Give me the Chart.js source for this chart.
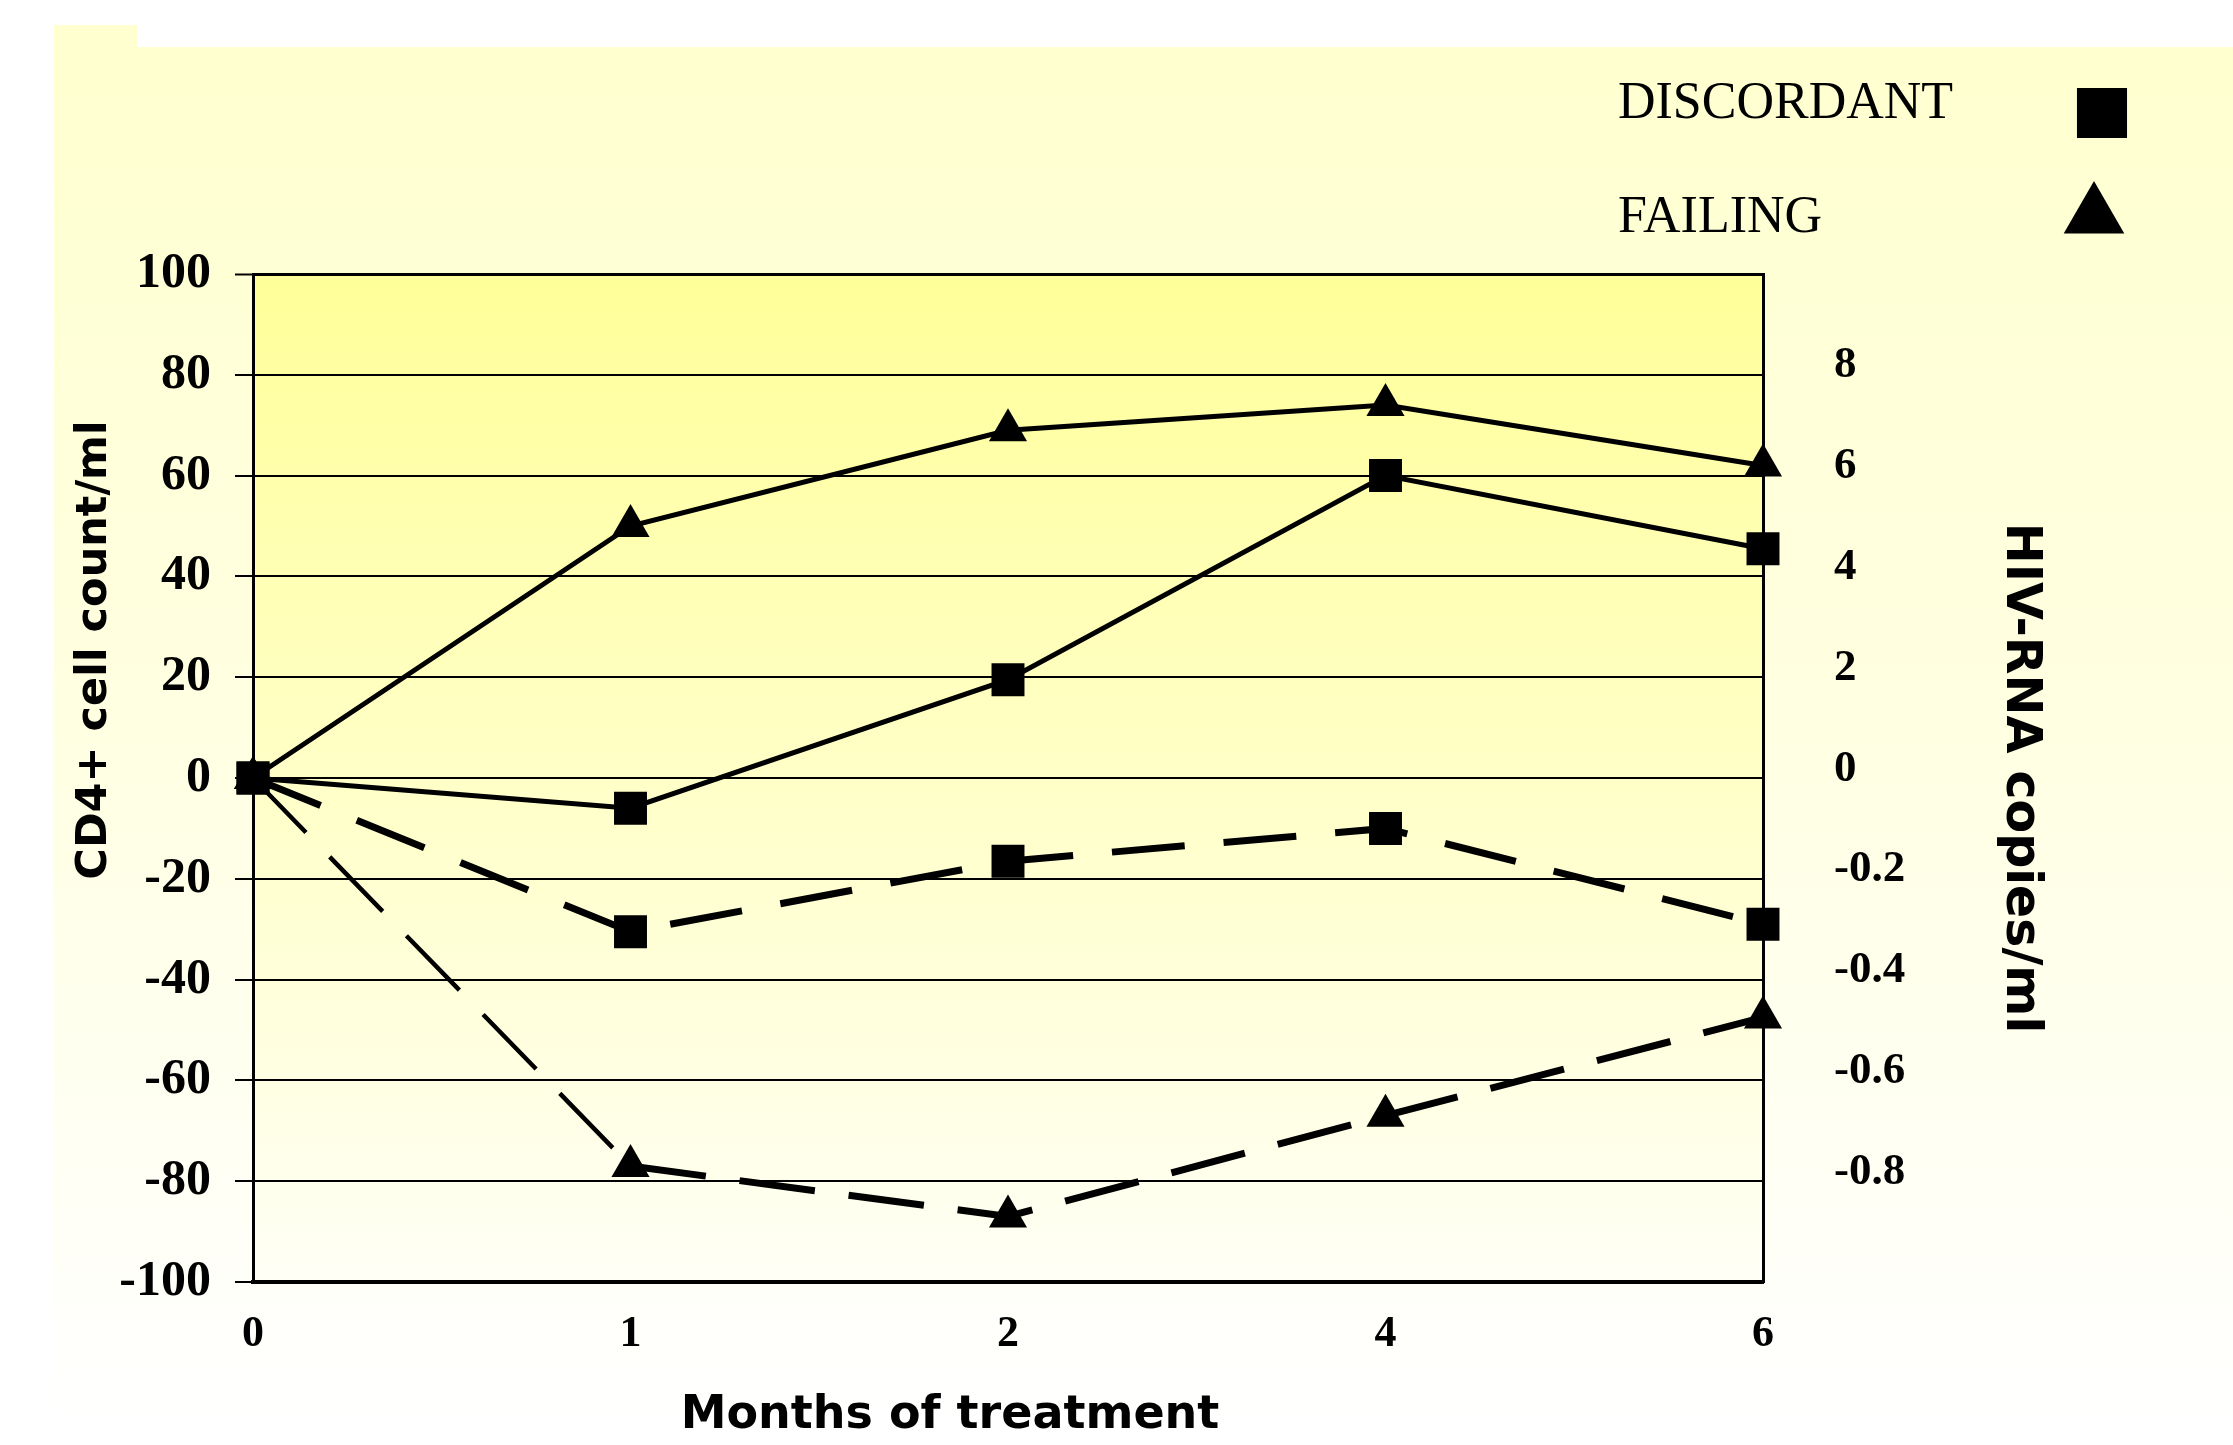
<!DOCTYPE html>
<html>
<head>
<meta charset="utf-8">
<script src="https://cdn.jsdelivr.net/npm/chart.js@4.4.1/dist/chart.umd.min.js"></script>
<style>
  html, body { margin: 0; padding: 0; background: #fff; }
  #wrap { width: 2233px; height: 1445px; position: relative; }
</style>
</head>
<body>
<div id="wrap"><canvas id="cd4Chart"></canvas></div>
<script>
// months on the x axis (not evenly spaced in time, drawn as categories)
const months = ['0', '1', '2', '4', '6'];

// CD4+ change (left axis)
const discordantCD4 = [0, -6, 19.5, 60, 45.5];
const failingCD4 = [0, 50, 69, 74, 62];

// HIV-RNA change (right axis)
const discordantRNA = [0, -0.305, -0.165, -0.10, -0.29];
const failingRNA = [0, -0.77, -0.87, -0.67, -0.475];

const legendLabels = ['DISCORDANT', 'FAILING'];
const legendStyles = ['rect', 'triangle'];

const serif = '"Liberation Serif", "Times New Roman", serif';
const sans = '"DejaVu Sans", sans-serif';

// page panel + plot area gradient
const backdrop = {
  id: 'backdrop',
  beforeDraw(chart) {
    const ctx = chart.ctx;
    const a = chart.chartArea;
    ctx.save();
    ctx.fillStyle = '#ffffff';
    ctx.fillRect(0, 0, chart.width, chart.height);

    const g = ctx.createLinearGradient(0, 25, 0, 1420);
    g.addColorStop(0, '#ffffcf');
    g.addColorStop(0.5, '#ffffe2');
    g.addColorStop(1, '#ffffff');
    ctx.fillStyle = g;
    ctx.beginPath();
    ctx.moveTo(54, 25);
    ctx.lineTo(137, 25);
    ctx.lineTo(137, 47);
    ctx.lineTo(chart.width, 47);
    ctx.lineTo(chart.width, chart.height);
    ctx.lineTo(54, chart.height);
    ctx.closePath();
    ctx.fill();

    const pg = ctx.createLinearGradient(0, a.top, 0, a.bottom);
    pg.addColorStop(0, '#ffff99');
    pg.addColorStop(1, '#fffff6');
    ctx.fillStyle = pg;
    ctx.fillRect(a.left, a.top, a.right - a.left, a.bottom - a.top);
    ctx.restore();
  }
};

// legend in the top right corner: text first, marker after it
const markerLegend = {
  id: 'markerLegend',
  afterDraw(chart) {
    const ctx = chart.ctx;
    ctx.save();
    ctx.fillStyle = '#000';
    ctx.font = '52px ' + serif;
    ctx.textBaseline = 'alphabetic';
    ctx.textAlign = 'left';
    const rows = [{ y: 118, my: 113, r: 35.4 }, { y: 232, my: 216, r: 35 }];
    legendLabels.forEach((txt, i) => {
      ctx.fillText(txt, 1618, rows[i].y);
      Chart.helpers.drawPoint(ctx, {
        pointStyle: legendStyles[i], radius: rows[i].r, rotation: 0, borderWidth: 0
      }, i === 0 ? 2102 : 2094, rows[i].my);
    });
    ctx.restore();
  }
};

// left and bottom axis titles sit off-centre in the original
const sideTitles = {
  id: 'sideTitles',
  afterDraw(chart) {
    const ctx = chart.ctx;
    ctx.save();
    ctx.fillStyle = '#000';
    ctx.textAlign = 'center';
    ctx.textBaseline = 'middle';
    ctx.font = 'bold 46px ' + sans;
    ctx.fillText('Months of treatment', 950, 1416);
    ctx.translate(95, 650);
    ctx.rotate(-Math.PI / 2);
    ctx.font = 'bold 43px ' + sans;
    ctx.fillText('CD4+ cell count/ml', 0, 0);
    ctx.restore();
  }
};

const ctx = document.getElementById('cd4Chart').getContext('2d');
new Chart(ctx, {
  type: 'line',
  data: {
    labels: months,
    datasets: [
      {
        label: 'DISCORDANT CD4',
        data: discordantCD4,
        yAxisID: 'y',
        borderColor: '#000',
        borderWidth: 5,
        pointStyle: 'rect',
        pointRadius: 23.3,
        pointBackgroundColor: '#000',
        pointBorderWidth: 0
      },
      {
        label: 'DISCORDANT HIV-RNA',
        data: discordantRNA,
        yAxisID: 'y2',
        borderColor: '#000',
        borderWidth: 7,
        borderDash: [73, 39],
        pointStyle: 'rect',
        pointRadius: 23.3,
        pointBackgroundColor: '#000',
        pointBorderWidth: 0
      },
      {
        label: 'FAILING CD4',
        data: failingCD4,
        yAxisID: 'y',
        borderColor: '#000',
        borderWidth: 5,
        pointStyle: 'triangle',
        pointRadius: 22,
        pointBackgroundColor: '#000',
        pointBorderWidth: 0
      },
      {
        label: 'FAILING HIV-RNA',
        data: failingRNA,
        yAxisID: 'y2',
        borderColor: '#000',
        borderWidth: 7,
        borderDash: [76, 34],
        segment: {
          borderWidth: c => c.p0DataIndex === 0 ? 4.5 : 7
        },
        pointStyle: 'triangle',
        pointRadius: 22,
        pointBackgroundColor: '#000',
        pointBorderWidth: 0
      }
    ]
  },
  options: {
    responsive: true,
    maintainAspectRatio: false,
    animation: false,
    clip: false,
    layout: { padding: { top: 274, left: 0, right: 0, bottom: 0 } },
    plugins: {
      legend: { display: false },
      tooltip: { enabled: false }
    },
    elements: { line: { tension: 0 } },
    scales: {
      x: {
        grid: { display: false },
        border: { display: true, color: '#000', width: 4 },
        ticks: {
          color: '#000',
          padding: 18,
          font: { family: serif, size: 44, weight: 'bold' }
        },
        afterFit: s => { s.height = 1445 - 1282; }
      },
      y: {
        position: 'left',
        min: -100,
        max: 100,
        ticks: {
          stepSize: 20,
          color: '#000',
          padding: 24,
          font: { family: serif, size: 50, weight: 'bold' }
        },
        grid: {
          color: '#000',
          lineWidth: c => c.tick && c.tick.value === 100 ? 3 : 2,
          tickLength: 18,
          tickColor: '#000',
          tickWidth: 2
        },
        border: { display: true, color: '#000', width: 3 },
        afterFit: s => { s.width = 253; }
      },
      y2: {
        position: 'right',
        min: -1,
        max: 1,
        ticks: {
          stepSize: 0.2,
          color: '#000',
          padding: 63,
          labelOffset: -9,
          font: { family: serif, size: 45, weight: 'bold' },
          callback: v => {
            if (Math.abs(v) > 0.99) return '';
            if (v > 0) return String(Math.round(v * 10));
            return String(Math.round(v * 10) / 10);
          }
        },
        grid: { display: false },
        border: { display: true, color: '#000', width: 3 },
        title: {
          display: true,
          text: 'HIV-RNA copies/ml',
          color: '#000',
          font: { family: sans, size: 49, weight: 'bold' },
          padding: { top: 184, bottom: 0 }
        },
        afterFit: s => { s.width = 2233 - 1763; }
      }
    }
  },
  plugins: [backdrop, markerLegend, sideTitles]
});
</script>
</body>
</html>
